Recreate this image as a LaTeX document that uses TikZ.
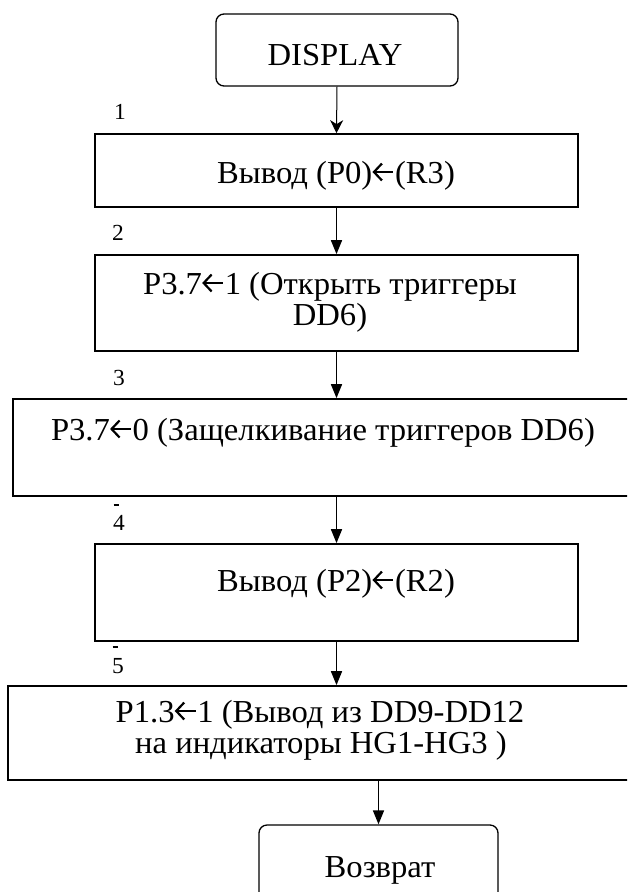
\documentclass[tikz,border=0pt]{standalone}
\usepackage{fontspec}
\setmainfont{Liberation Serif}[FakeStretch=1.02]
\usetikzlibrary{arrows.meta}
% left-pointing assignment arrow used inside the block texts
\newcommand{\assignarrow}{\hspace{0.5pt}\tikz[x=1pt,y=1pt,baseline=0pt,line width=2.2pt,line cap=butt,line join=miter]{
  \draw (9.5,19.5) -- (1.5,11) -- (9.5,2.5);
  \draw (1.5,11) -- (21,11);}\hspace{0.5pt}}
\begin{document}
\begin{tikzpicture}[x=1pt,y=-1pt,
  frame/.style={draw,rectangle,line width=1.7pt,inner sep=0pt},
  term/.style={draw,rectangle,rounded corners=8pt,line width=1.3pt,inner sep=0pt},
  txt/.style={inner sep=0pt,anchor=base,text height=21pt,text depth=5pt,font=\fontsize{32}{30}\selectfont},
  num/.style={inner sep=0pt,anchor=base,font=\fontsize{23}{24}\selectfont},
  flow/.style={line width=1.6pt,-{Triangle[length=14pt,width=11pt]}},
  thinflow/.style={line width=1pt,-{Stealth[length=13pt,width=13pt,inset=4pt]}},
  tick/.style={line width=1.3pt}]
\useasboundingbox (0,0) rectangle (627,892);
\clip (0,0) rectangle (627,892);

% blocks
\node[term, minimum width=242pt, minimum height=72pt] (start) at (337,50) {};
\node[frame, minimum width=483pt, minimum height=73pt] (b1) at (336.5,170.5) {};
\node[frame, minimum width=483pt, minimum height=96pt] (b2) at (336.5,303) {};
\node[frame, minimum width=627pt, minimum height=97pt] (b3) at (326.5,447.5) {};
\node[frame, minimum width=483pt, minimum height=97pt] (b4) at (336.5,592.5) {};
\node[frame, minimum width=632pt, minimum height=94pt] (b5) at (324,733) {};
\node[term, minimum width=239pt, minimum height=80pt] (ret) at (378.5,865) {};

% texts
\node[txt] (tstart) at (335,65) {DISPLAY};
\node[txt] (t1) at (336,183) {Вывод (P0)\assignarrow(R3)};
\node[txt] (t2a) at (330,294) {P3.7\assignarrow1 (Открыть триггеры};
\node[txt] (t2b) at (330,325) {DD6)};
\node[txt] (t3) at (323,440) {P3.7\assignarrow0 (Защелкивание триггеров DD6)};
\node[txt] (t4) at (336,591) {Вывод (P2)\assignarrow(R2)};
\node[txt] (t5a) at (320,722) {P1.3\assignarrow1 (Вывод из DD9-DD12};
\node[txt] (t5b) at (321,753) {на индикаторы HG1-HG3 )};
\node[txt] (tret) at (380,877) {Возврат};

% step numbers
\node[num] (n1) at (120,119) {1};
\node[num] (n2) at (118,240) {2};
\node[num] (n3) at (119,385) {3};
\node[num] (n4) at (119,530) {4};
\node[num] (n5) at (118,673) {5};
\draw[tick] (113.5,505) -- (118.5,505);
\draw[tick] (112.5,647) -- (117.5,647);

% connectors
\draw[thinflow] (start.south) -- (b1.north);
\draw[flow] (b1.south) -- (b2.north);
\draw[flow] (b2.south) -- (b2.south |- b3.north);
\draw[flow] (b2.south |- b3.south) -- (b4.north);
\draw[flow] (b4.south) -- (b4.south |- b5.north);
\draw[flow] (ret.north |- b5.south) -- (ret.north);
\end{tikzpicture}
\end{document}
